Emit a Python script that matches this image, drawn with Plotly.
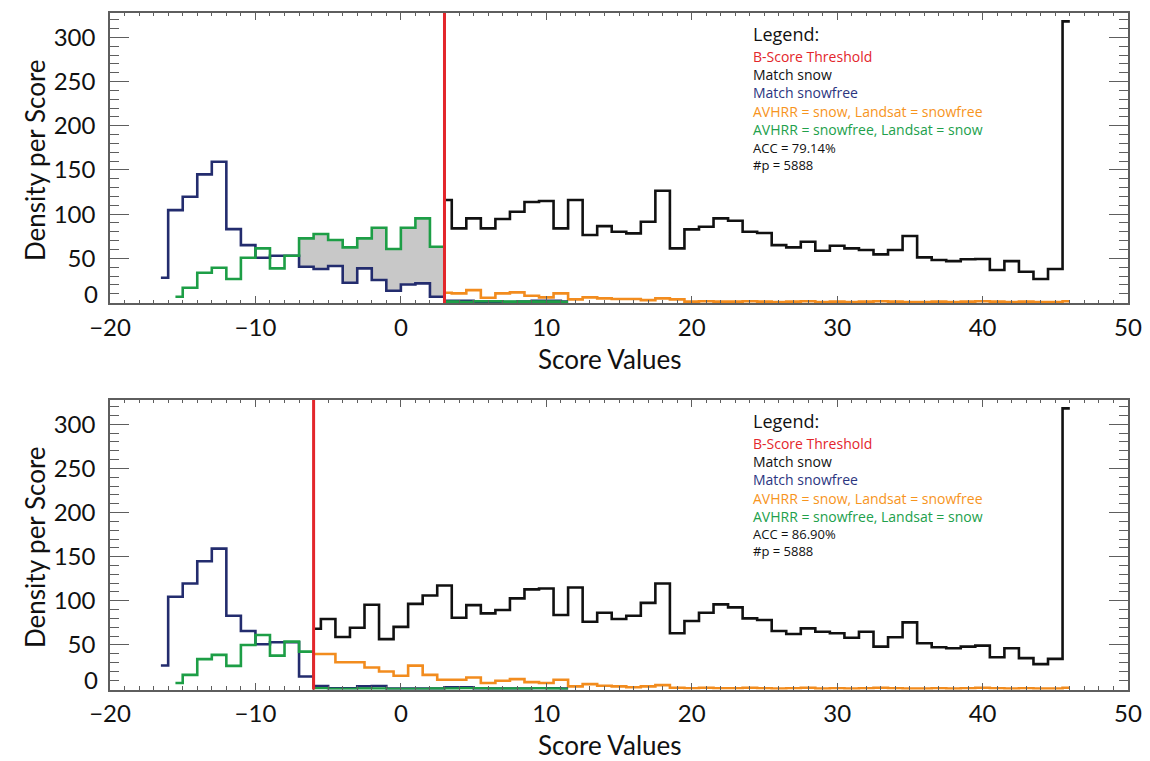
import numpy as np
import plotly.graph_objects as go

# ---------------- data: density per score bin ----------------
# top panel (threshold = 3)
thr_top = 3.0
blue_top = [28, 104.6, 119.7, 145, 159.3, 83.1, 65, 50.7, 53, 53,
            40.5, 37.9, 41.3, 22.4, 38.7, 25.5, 13.4, 20.5, 21.7, 6.6,
            2, 2, 1, 1, 0.5, 1, 2, 2, 1]                      # centres -16.5 .. 11.5
green_top = [6.6, 16.8, 33.7, 39.4, 26.6, 50.7, 61.3, 38.7, 53,
             72.6, 77.5, 70.7, 62.4, 72.6, 84.6, 60.5, 84.6, 95.2, 63.1,
             1, 0.5, 1.5, 1.5, 1, 1, 1, 1, 0.5]               # centres -15.5 .. 11.5
black_top = [116, 83.9, 95.2, 83.9, 94.5, 102.7, 113.7, 114.8, 83.9, 116,
             76.4, 86.5, 80.1, 78.3, 91.4, 126.5, 61.3, 82.8, 85.8, 95.2,
             92.5, 80.1, 78.7, 65, 62.4, 68.8, 58.6, 64.3, 61.3, 59.4,
             54.5, 59.4, 75.2, 51.1, 48.1, 46.9, 48.9, 49.2, 36.8, 46.9,
             34.8, 26.6, 37.9, 318]                            # centres 3 .. 46
orange_top = [11.1, 10.4, 14.1, 5.5, 10.4, 11.5, 7.7, 5.9, 10.4, 3.6,
              5.9, 4.7, 4, 4, 2.8, 4.7, 3.6, 1, 1.5, 1,
              1, 1.5, 1, 0.5, 1, 1.5, 0.5, 1, 0.5, 1,
              1.5, 1, 0.5, 0.5, 1, 0.5, 1, 1.5, 1, 0.5,
              1, 0.5, 0.5, 1.5]                                # centres 3 .. 46

# bottom panel (threshold = -6)
thr_bot = -6.0
blue_bot = [26.7, 104.5, 119.6, 144.8, 159.1, 83.1, 65.8, 50.8, 53, 53, 14.2,
            3.5, 1, 1, 3, 3.5, 0.5, 0.5, 0.5, 0.5, 2, 2, 0.5, 0.5, 0.5, 0.5, 1, 1, 0.5]
green_bot = [6.8, 16.1, 33.9, 38.7, 26.3, 50, 61.3, 37.9, 53.7, 42.4,
             1, 0, 0, 0.5, 0.5, 0, 0, 0, 0.5, 0.5, 1, 1, 0.5, 0.5, 0.5, 1, 0.5, 0]
black_bot = [68.4, 79.3, 59, 69.5, 95.5, 56.6, 70.4, 96.5, 106,
             117.3, 80.8, 95.1, 85.8, 89.5, 102.7, 112.9, 114, 83.9, 115.1,
             76.3, 86.5, 79.3, 83.1, 97.7, 119.6, 63.2, 77.1, 86.5, 95.9,
             92.5, 80.1, 78.2, 65.8, 62.4, 68.8, 65, 63.2, 58.2, 65,
             48.1, 58.7, 75.6, 51.9, 47.4, 46.3, 48.1, 49.2, 36.1, 46.3,
             35, 28.2, 34.2, 318]                              # centres -6 .. 46
orange_bot = [39.8, 39.8, 30.4, 30.4, 24.4, 19.9, 15, 26.6, 16.1,
              10.5, 10.5, 13.1, 6.8, 9.4, 11.3, 7.9, 6.8, 10.5, 3,
              5.6, 3.8, 3, 2, 3, 4.5, 1.5, 1, 1.5, 1,
              1, 1.5, 1, 0.5, 1, 1.5, 0.5, 1, 0.5, 1,
              1.5, 1, 0.5, 0.5, 1, 0.5, 1, 1.5, 1, 0.5,
              1, 0.5, 0.5, 1.5]                                # centres -6 .. 46

acc_top, acc_bot = "79.14%", "86.90%"
n_points = 5888
fill_start = -7.0   # gray band: green above blue up to the threshold

y_ticks = [0, 50, 100, 150, 200, 250, 300]
legend_items = [("B-Score Threshold", "#e3262b"),
                ("Match snow", "#111111"),
                ("Match snowfree", "#2b3580"),
                ("AVHRR = snow, Landsat = snowfree", "#f7941d"),
                ("AVHRR = snowfree, Landsat = snow", "#21a04b")]

# ---------------- colours / styles ----------------
C_RED, C_BLACK, C_BLUE, C_ORANGE, C_GREEN = "#e3262b", "#111111", "#232c6e", "#f28c1e", "#1d9e46"
C_AXIS = "#5e5e5e"
FONT = "Open Sans"      # legend block
FONT_AX = "Lato"        # tick labels and axis titles
W, H = 1150, 761
PANEL_H = 290.0


def centres(start, values):
    return start + np.arange(len(values))


def step_path(xc, yv, lo, hi):
    """Corner points of the step outline for bins whose centres fall in [lo, hi]."""
    px, py = [], []
    for c, v in zip(xc, yv):
        if lo <= c <= hi:
            px += [c - 0.5, c + 0.5]
            py += [v, v]
    return px, py


def from_top(px):
    """Fraction of the panel height for an offset (px) below the panel's top edge."""
    return 1 - px / PANEL_H


fig = go.Figure()

panels = [
    dict(ax="", thr=thr_top, blue=blue_top, green=green_top, black=black_top,
         orange=orange_top, bstart=-16.5, gstart=-15.5, kstart=3, acc=acc_top, fill=True,
         xtitle_y=359, ytitle_y=160),
    dict(ax="2", thr=thr_bot, blue=blue_bot, green=green_bot, black=black_bot,
         orange=orange_bot, bstart=-16.5, gstart=-15.5, kstart=-6, acc=acc_bot, fill=False,
         xtitle_y=745.3, ytitle_y=547),
]

legend_html = "<br>".join(f"<span style='color:{c}'>{t}</span>" for t, c in legend_items)

for p in panels:
    xa, ya = "x" + p["ax"], "y" + p["ax"]
    yd = ya + " domain"
    bx = centres(p["bstart"], p["blue"])
    gx = centres(p["gstart"], p["green"])
    kx = centres(p["kstart"], p["black"])

    if p["fill"]:
        gxp, gyp = step_path(gx, p["green"], fill_start, p["thr"])
        bxp, byp = step_path(bx, p["blue"], fill_start, p["thr"])
        fig.add_trace(go.Scatter(x=gxp + bxp[::-1], y=gyp + byp[::-1], fill="toself",
                                 fillcolor="#c8c8c8", line=dict(width=0), mode="lines",
                                 hoverinfo="skip", showlegend=False, xaxis=xa, yaxis=ya))

    for xs, ys, col in [(kx, p["orange"], C_ORANGE), (bx, p["blue"], C_BLUE),
                        (gx, p["green"], C_GREEN), (kx, p["black"], C_BLACK)]:
        fig.add_trace(go.Scatter(x=xs, y=ys, mode="lines", line=dict(color=col, width=2.6, shape="hvh"),
                                 showlegend=False, xaxis=xa, yaxis=ya))

    # threshold line over the full panel height
    fig.add_shape(type="line", xref=xa, yref=yd, x0=p["thr"], x1=p["thr"], y0=0, y1=1,
                  line=dict(color=C_RED, width=3))

    # text legend
    lx = 24.07
    fig.add_annotation(xref=xa, yref=yd, x=lx, y=from_top(21), text="Legend:", showarrow=False,
                       xanchor="left", yanchor="middle", font=dict(family=FONT, size=18, color="#111"))
    fig.add_annotation(xref=xa, yref=yd, x=lx, y=from_top(80), text=legend_html, showarrow=False,
                       xanchor="left", yanchor="middle", align="left",
                       font=dict(family=FONT, size=14, color="#111"))
    fig.add_annotation(xref=xa, yref=yd, x=lx, y=from_top(143),
                       text=f"ACC = {p['acc']}<br>#p = {n_points}", showarrow=False,
                       xanchor="left", yanchor="middle", align="left",
                       font=dict(family=FONT, size=13, color="#111"))

    # zero label sits slightly above its tick, clear of the x labels
    fig.add_annotation(xref="paper", yref=yd, x=100 / W, y=from_top(280), text="0", showarrow=False,
                       xanchor="right", yanchor="middle", font=dict(family=FONT_AX, size=24, color="#111"))

    # axis titles
    fig.add_annotation(xref="paper", yref="paper", x=610 / W, y=1 - p["xtitle_y"] / H,
                       text="Score Values", showarrow=False, xanchor="center", yanchor="middle",
                       font=dict(family=FONT_AX, size=26, color="#111"))
    fig.add_annotation(xref="paper", yref="paper", x=35 / W, y=1 - p["ytitle_y"] / H,
                       text="Density per Score", showarrow=False, textangle=-90,
                       xanchor="center", yanchor="middle",
                       font=dict(family=FONT_AX, size=26, color="#111"))

xdom = [110 / W, 1128 / W]
ydom_top = [1 - 303 / H, 1 - 13 / H]
ydom_bot = [1 - 689.5 / H, 1 - 400 / H]

axis_common = dict(showline=True, linecolor=C_AXIS, linewidth=1.5, mirror="ticks",
                   ticks="inside", tickcolor=C_AXIS, showgrid=False, zeroline=False,
                   automargin=False, tickfont=dict(family=FONT_AX, size=24, color="#111"))
xaxis_style = dict(axis_common, range=[-20, 50], dtick=10, tick0=0, ticklen=7, tickwidth=1.2,
                   ticklabelstandoff=2,
                   minor=dict(dtick=1, ticklen=3.5, tickcolor=C_AXIS, ticks="inside", tickwidth=1),
                   domain=xdom)
yaxis_style = dict(axis_common, range=[-0.5, 327.5], ticklen=19, tickwidth=1.2,
                   tickvals=y_ticks, ticktext=[""] + [str(v) for v in y_ticks[1:]],
                   ticklabelstandoff=8,
                   minor=dict(dtick=10, ticklen=9, tickcolor=C_AXIS, ticks="inside", tickwidth=1))

fig.update_layout(
    width=W, height=H, margin=dict(l=0, r=0, t=0, b=0),
    paper_bgcolor="white", plot_bgcolor="white", showlegend=False,
    xaxis=dict(xaxis_style, anchor="y"),
    yaxis=dict(yaxis_style, domain=ydom_top, anchor="x"),
    xaxis2=dict(xaxis_style, anchor="y2"),
    yaxis2=dict(yaxis_style, domain=ydom_bot, anchor="x2"),
)

fig.write_html("out.html")
